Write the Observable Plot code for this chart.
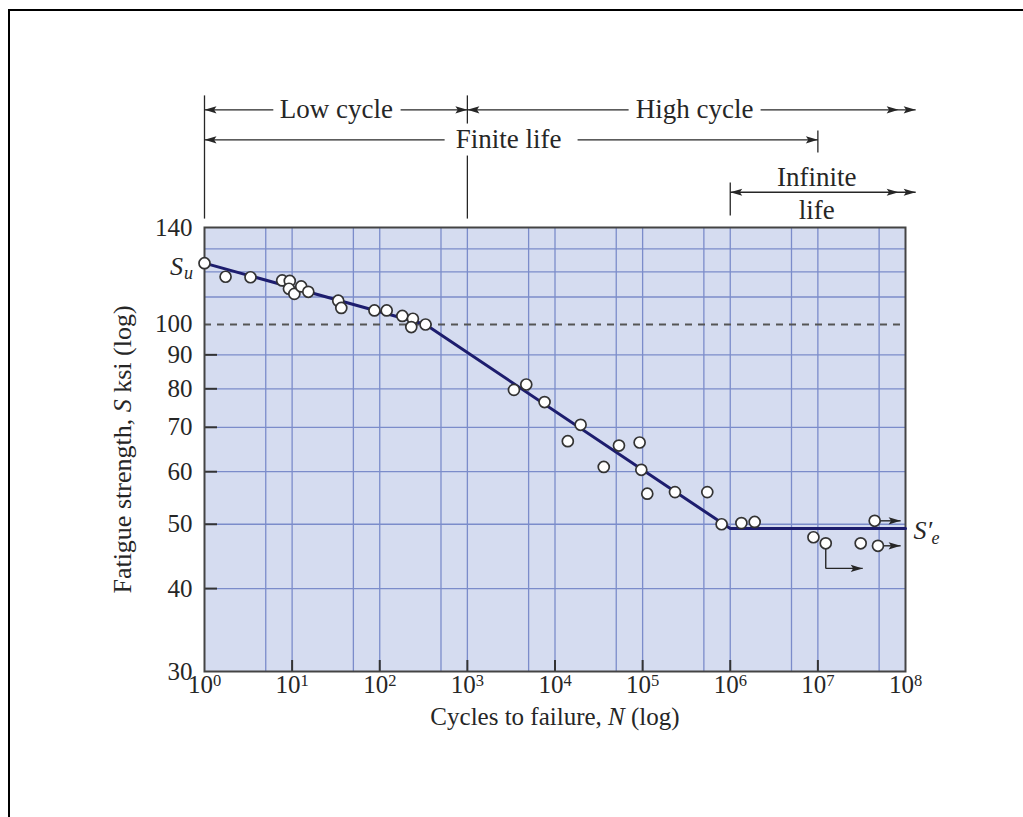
<!DOCTYPE html>
<html><head><meta charset="utf-8">
<script src="https://cdn.jsdelivr.net/npm/d3@7"></script>
<script src="https://cdn.jsdelivr.net/npm/@observablehq/plot@0.6"></script>
<style>
html,body{margin:0;padding:0;background:#fff;overflow:hidden;}
#wrap{position:relative;width:1023px;height:817px;overflow:hidden;}
#frameTop{position:absolute;left:8px;top:9px;width:1100px;height:0;border-top:2px solid #000;}
#frameLeft{position:absolute;left:8px;top:9px;width:0;height:900px;border-left:2px solid #000;}
#chart{position:absolute;left:0;top:0;}
</style></head><body>
<div id="wrap"><div id="frameTop"></div><div id="frameLeft"></div><div id="chart"></div></div>
<script>
// ---- data ----
const cyclesN = [1, 1.74, 3.35, 7.7, 9.4, 9.2, 10.6, 12.7, 15.3, 33.6, 36.4, 87, 120, 181, 239, 229, 333,
  3400, 4700, 7600, 19600, 14000, 36000, 53700, 92400, 96600, 113000, 234000, 547000, 797000,
  1.34e6, 1.9e6, 8.9e6, 1.23e7, 3.08e7, 4.85e7, 4.45e7];
const strengthS = [123.7, 118, 117.8, 116.5, 116.3, 113.2, 111.2, 114.1, 112, 108.6, 105.9, 105, 105, 103, 102, 99.1, 100,
  79.7, 81.2, 76.4, 70.6, 66.7, 61.0, 65.7, 66.4, 60.4, 55.6, 55.9, 55.9, 50.0,
  50.2, 50.4, 47.8, 46.8, 46.8, 46.4, 50.6];
const curveN = [1, 333, 1e6, 1e8];
const curveS = [123.7, 100, 49.26, 49.26];

// run-outs (specimens that did not fail)
const runoutN = [4.45e7, 4.85e7];
const runoutS = [50.6, 46.4];
const runoutEndN = 8.8e7;
const stepN = 1.23e7, stepS = 46.8, stepDropS = 42.9, stepEndN = 3.25e7;

// axis ticks / grid
const decades = [1, 1e1, 1e2, 1e3, 1e4, 1e5, 1e6, 1e7, 1e8];
const gridN = [5, 10, 50, 1e2, 5e2, 1e3, 5e3, 1e4, 5e4, 1e5, 5e5, 1e6, 5e6, 1e7, 5e7];
const yTickLabels = [30, 40, 50, 60, 70, 80, 90, 100, 140];
const gridS = [40, 50, 60, 70, 80, 90, 110, 120, 130];
const innerTickS = [40, 50, 60, 70, 80, 90];
const dashedS = [100];

// life-regime annotations above the chart (data coordinates)
const bandLabels = ["Low cycle", "High cycle", "Finite life", "Infinite", "life"];
const bandLabelN = [32, 3.93e5, 2950, 9.7e6, 9.7e6];
const bandLabelS = [210.6, 210.6, 189.8, 166.5, 148.5];
const barN  = [1, 1e3, 1e3, 1e7, 1e6];
const barS1 = [221.4, 221.4, 179.7, 196, 163.7];
const barS2 = [144.4, 200.8, 144.4, 181.6, 146];
const spanN1 = [1, 173, 1e3, 2.22e6, 1, 1.81e4, 1e6];
const spanN2 = [6.1, 1e3, 6.92e4, 1.306e8, 550, 1e7, 1.306e8];
const spanS  = [210.6, 210.6, 210.6, 210.6, 189.8, 189.8, 158.2];
const headN   = [1, 1e3, 1e3, 8.36e7, 1.306e8, 1, 1e7, 1e6, 8.36e7, 1.306e8];
const headS   = [210.6, 210.6, 210.6, 210.6, 210.6, 189.8, 189.8, 158.2, 158.2, 158.2];
const headDir = ["left", "right", "left", "right", "right", "left", "right", "left", "right", "right"];

const xLabel = "Cycles to failure, N (log)";
const yLabel = "Fatigue strength, S ksi (log)";

// ---- tables ----
const points = cyclesN.map((n, i) => ({n, s: strengthS[i]}));
const curve = curveN.map((n, i) => ({n, s: curveS[i]}));
const segs = [];
barN.forEach((n, i) => segs.push({x1: n, x2: n, y1: barS1[i], y2: barS2[i]}));
spanN1.forEach((n, i) => segs.push({x1: n, x2: spanN2[i], y1: spanS[i], y2: spanS[i]}));
const dataSegs = [];
runoutN.forEach((n, i) => dataSegs.push({x1: n, x2: runoutEndN, y1: runoutS[i], y2: runoutS[i]}));
dataSegs.push({x1: stepN, x2: stepN, y1: stepS, y2: stepDropS});
dataSegs.push({x1: stepN, x2: stepEndN, y1: stepDropS, y2: stepDropS});
const heads = headN.map((n, i) => ({n, s: headS[i], dir: headDir[i]}));
runoutS.forEach(s => heads.push({n: runoutEndN, s, dir: "right"}));
heads.push({n: stepEndN, s: stepDropS, dir: "right"});
const labels = bandLabels.map((t, i) => ({t, n: bandLabelN[i], s: bandLabelS[i]}));

// ---- style ----
const W = 1023, H = 817, mL = 204, mR = 118, mT = 227, mB = 146;
const frameW = W - mL - mR, frameH = H - mT - mB;
const ink = "#262626", bg = "#d5dcf0", gridC = "#7b8cca", navy = "#1d1d6e";
const dart = {draw(ctx, l) { const w = 3.6; ctx.moveTo(0, -l); ctx.lineTo(w, 0); ctx.lineTo(0, -l * 0.2); ctx.lineTo(-w, 0); ctx.closePath(); }};

const chart = Plot.plot({
  width: W, height: H, marginLeft: mL, marginRight: mR, marginTop: mT, marginBottom: mB,
  x: {type: "log", domain: [1, 1e8], axis: null},
  y: {type: "log", domain: [30, 140], axis: null},
  style: {fontFamily: "'Liberation Serif', 'Times New Roman', serif", fontSize: "25px", background: "transparent", color: ink},
  marks: [
    Plot.frame({fill: bg, stroke: null}),
    Plot.ruleX(gridN, {stroke: gridC, strokeWidth: 1.3}),
    Plot.ruleY(gridS, {stroke: gridC, strokeWidth: 1.3}),
    Plot.ruleY(dashedS, {stroke: "#555", strokeWidth: 1.8, strokeDasharray: "7,6"}),
    Plot.ruleY(innerTickS, {insetRight: frameW - 13, stroke: "#333", strokeWidth: 2}),
    Plot.ruleX(decades.slice(1, -1), {insetTop: frameH - 11, stroke: "#333", strokeWidth: 2}),
    Plot.frame({stroke: "#444", strokeWidth: 2}),
    Plot.axisY(yTickLabels, {tickSize: 0, tickPadding: 12, fontSize: 25, tickFormat: d => String(d)}),
    Plot.axisX(decades, {tickSize: 0, tickPadding: 4, fontSize: 25, tickFormat: d => "10^" + Math.round(Math.log10(d))}),
    Plot.text([xLabel], {frameAnchor: "bottom", dy: 45, fontSize: 25, textAnchor: "middle", lineAnchor: "middle"}),
    Plot.text([yLabel], {frameAnchor: "left", rotate: -90, dx: -82, fontSize: 26, textAnchor: "middle", lineAnchor: "middle"}),
    // S-N curve
    Plot.line(curve, {x: "n", y: "s", stroke: navy, strokeWidth: 3}),
    Plot.link(dataSegs, {x1: "x1", x2: "x2", y1: "y1", y2: "y2", stroke: ink, strokeWidth: 1.4}),
    Plot.dot(points, {x: "n", y: "s", r: 5.5, fill: "white", stroke: "#333", strokeWidth: 1.7}),
    // annotations
    Plot.link(segs, {x1: "x1", x2: "x2", y1: "y1", y2: "y2", stroke: ink, strokeWidth: 1.3}),
    Plot.vector(heads, {x: "n", y: "s", rotate: d => d.dir === "right" ? 90 : -90, length: 12, anchor: "end", shape: dart, fill: ink, stroke: "none"}),
    Plot.text(labels, {x: "n", y: "s", text: "t", fontSize: 27}),
    Plot.text(["S"], {x: () => 1, y: () => curveS[0], dx: -28, dy: 3, fontSize: 26, fontStyle: "italic"}),
    Plot.text(["u"], {x: () => 1, y: () => curveS[0], dx: -16, dy: 10, fontSize: 18, fontStyle: "italic"}),
    Plot.text(["S′"], {x: () => 1e8, y: () => curveS[3], dx: 8, dy: 2, textAnchor: "start", fontSize: 26, fontStyle: "italic"}),
    Plot.text(["e"], {x: () => 1e8, y: () => curveS[3], dx: 26, dy: 10, textAnchor: "start", fontSize: 18, fontStyle: "italic"})
  ]
});

chart.querySelectorAll("text").forEach(t => {
  const s = t.textContent;
  const m = s.match(/^10\^(\d+)$/);
  if (m) t.innerHTML = `10<tspan dy="-0.45em" font-size="0.66em">${m[1]}</tspan>`;
  else if (s === xLabel) t.innerHTML = 'Cycles to failure, <tspan font-style="italic">N</tspan> (log)';
  else if (s === yLabel) t.innerHTML = 'Fatigue strength, <tspan font-style="italic">S</tspan> ksi (log)';
});
document.getElementById("chart").append(chart);
</script>
</body></html>
